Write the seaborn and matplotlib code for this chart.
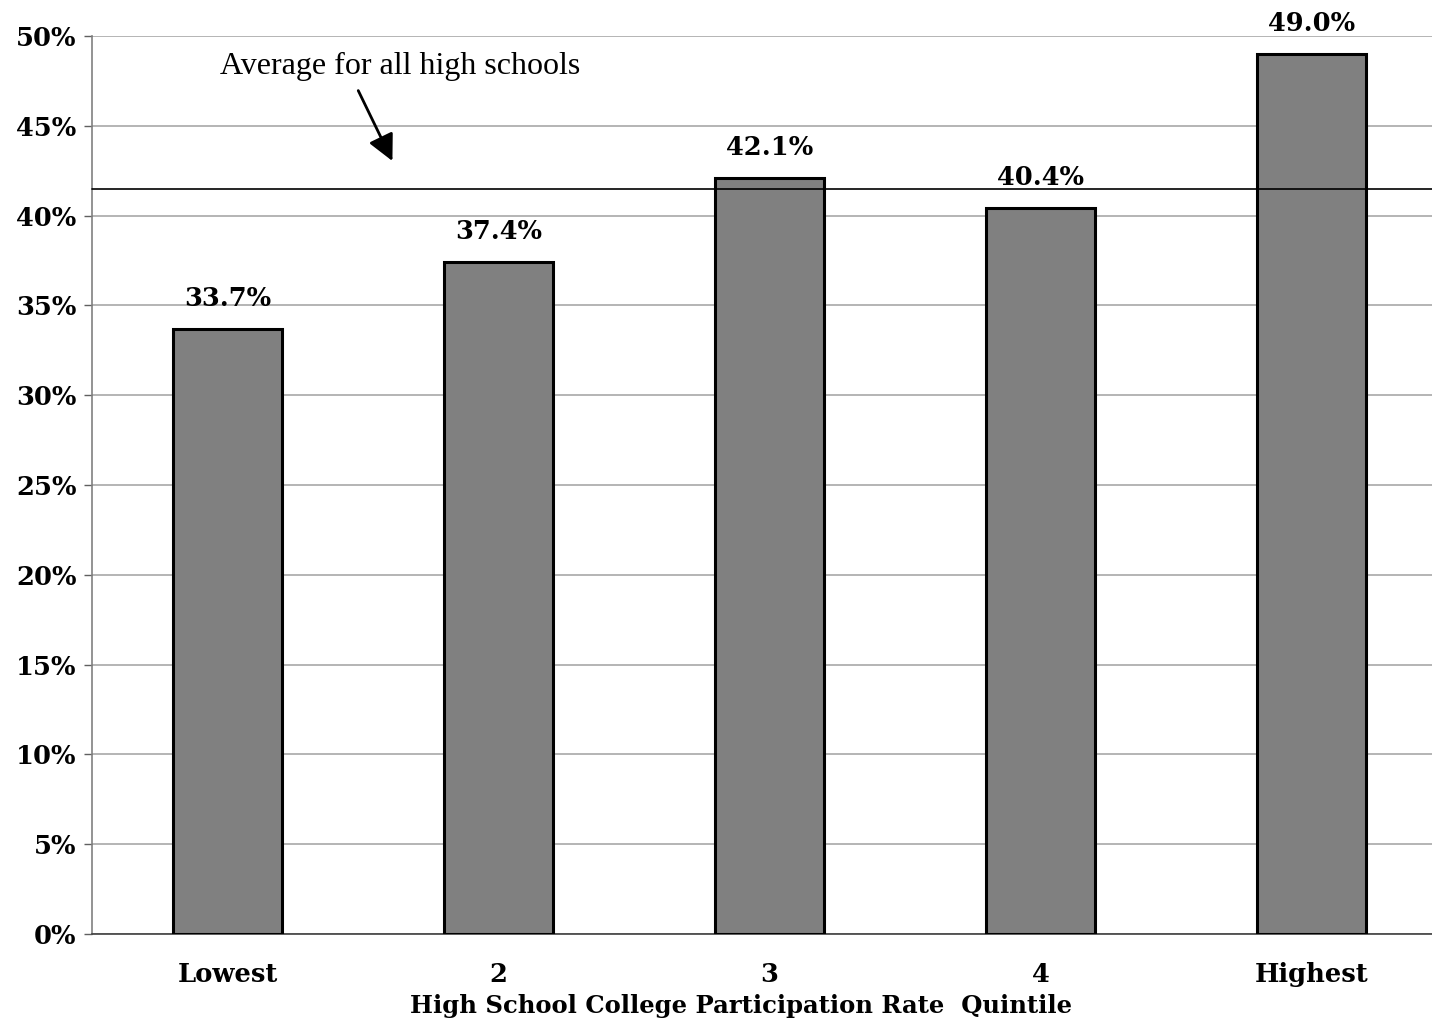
import matplotlib
matplotlib.use("Agg")
import matplotlib.pyplot as plt
import seaborn as sns
import pandas as pd

categories = ["Lowest", "2", "3", "4", "Highest"]
values = [33.7, 37.4, 42.1, 40.4, 49.0]
bar_labels = ["33.7%", "37.4%", "42.1%", "40.4%", "49.0%"]
average_all = 41.5
yticks = [0, 5, 10, 15, 20, 25, 30, 35, 40, 45, 50]
ytick_labels = [f"{v}%" for v in yticks]
xlabel = "High School College Participation Rate  Quintile"
annot_text = "Average for all high schools"

sns.set_theme(style="white")
plt.rcParams['font.family'] = ['DejaVu Serif']
plt.rcParams['text.color'] = 'black'
plt.rcParams['xtick.color'] = 'black'
plt.rcParams['ytick.color'] = 'black'
plt.rcParams['axes.labelcolor'] = 'black'

df = pd.DataFrame({"cat": categories, "val": values})

fig = plt.figure(figsize=(14.32, 10.25), dpi=100)
W, H = 1432, 1025
left, right, top, bottom = 92, 1447, 36, 934
ax = fig.add_axes([left / W, 1 - bottom / H, (right - left) / W, (bottom - top) / H])

sns.barplot(data=df, x="cat", y="val", color="#808080", saturation=1,
            width=0.40, edgecolor="black", linewidth=2.2, ax=ax, zorder=3)

ax.set_ylim(0, 50)
ax.set_xlim(-0.5, 4.5)
ax.set_yticks(yticks)
ax.set_yticklabels(ytick_labels, fontsize=18.5, fontweight="bold")
ax.yaxis.grid(True, color="#a0a0a0", linewidth=1.1, zorder=0)
ax.set_axisbelow(True)

ax.set_xticks([i for i in range(5)])
ax.set_xticklabels(categories, fontsize=18.5, fontweight="bold")
ax.tick_params(axis="x", length=0, pad=20)
ax.set_xticks([i - 0.5 for i in range(5)], minor=True)
ax.tick_params(axis="x", which="minor", length=8, width=1, color="#606060", direction="out")
ax.tick_params(axis="y", length=6, width=1, color="#606060", direction="out", left=True, pad=5)

for s in ["top", "right"]:
    ax.spines[s].set_visible(False)
ax.spines["left"].set_color("#808080")
ax.spines["left"].set_linewidth(1.2)
ax.spines["bottom"].set_color("#404040")
ax.spines["bottom"].set_linewidth(1.2)

ax.set_xlabel(xlabel, fontsize=17.5, fontweight="bold", va="top")
ax.set_ylabel("")
ax.xaxis.set_label_coords(((1071 + 411) / 2 - left) / (right - left), -(994 - bottom) / (bottom - top))

for i, (v, lab) in enumerate(zip(values, bar_labels)):
    ax.text(i, v + 1.0, lab, ha="center", va="bottom", fontsize=18.5, fontweight="bold")

ax.axhline(average_all, color="black", linewidth=1.2, zorder=4, clip_on=False)

ax.annotate("", xy=(0.613, 42.9), xytext=(0.478, 47.1),
            arrowprops=dict(arrowstyle="-|>", color="black", lw=2, mutation_scale=40))
ax.text(-0.028, 48.3, annot_text, ha="left", va="center", fontsize=23,
        family=["Liberation Serif"])

fig.savefig("out.png", dpi=100, facecolor="white")
